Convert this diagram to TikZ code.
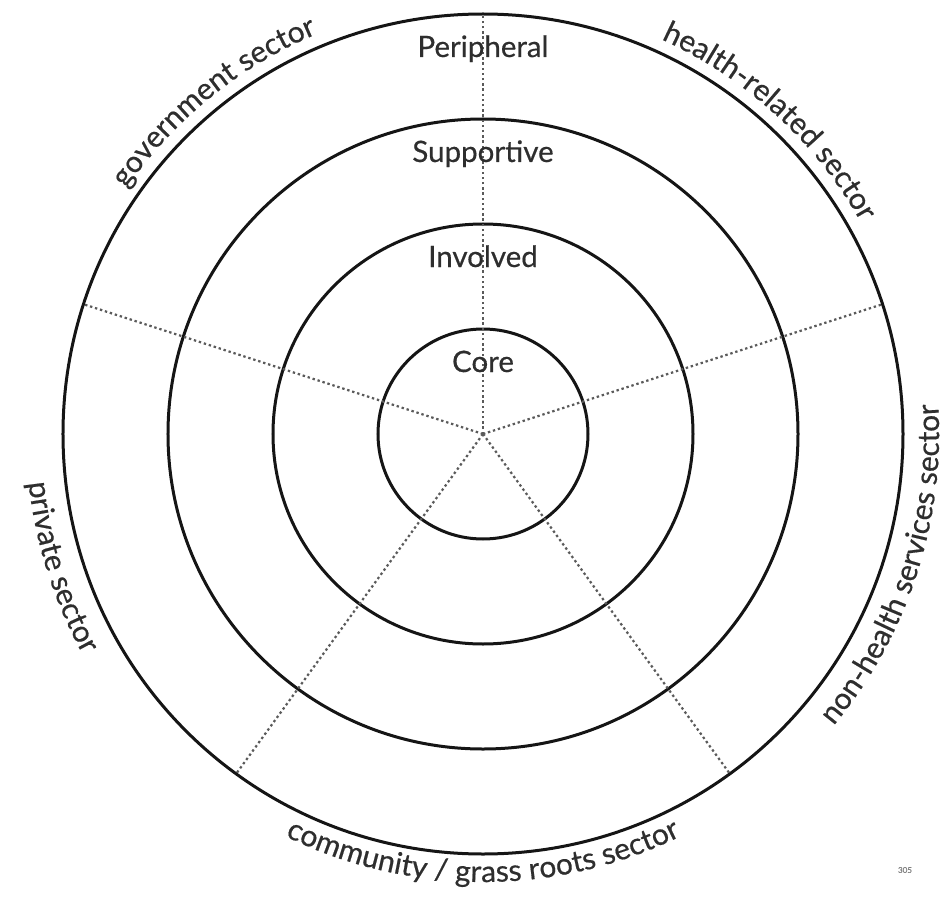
\documentclass[tikz,border=0pt]{standalone}
\usepackage{fontspec}
\setmainfont{Lato}[FakeBold=0.5]
\usetikzlibrary{decorations.text}
\definecolor{ink}{HTML}{151515}
\definecolor{txt}{HTML}{2E2E2E}
\definecolor{dotc}{HTML}{5A5A5A}
\newcommand\sectorfont{\fontsize{30}{30}\selectfont}
\begin{document}
\begin{tikzpicture}[x=1pt,y=1pt,
  ring/.style={circle, draw=ink, line width=3pt, inner sep=0pt, outer sep=0pt},
  spoke/.style={draw=dotc, line width=2.2pt, dash pattern=on 2.4pt off 2.8pt, line cap=butt},
  level/.style={font=\fontsize{29.5}{30}\selectfont, text=txt, anchor=base, inner sep=0pt},
  sector/.style={decorate, decoration={text along path, text align=center, text color=txt, text={|\sectorfont|#1}}}
]
\useasboundingbox (-483,-471) rectangle (461,434);
\coordinate (O) at (0,0);
% circles
\node[ring, minimum size=840pt] (peri) at (O) {};
\node[ring, minimum size=630pt] (supp) at (O) {};
\node[ring, minimum size=420pt] (invo) at (O) {};
\node[ring, minimum size=210pt] (core) at (O) {};
% spokes
\foreach \a in {90,162,234,306,18}{
  \draw[spoke] (O) -- (peri.\a);
}
% level labels
\node[level] (lp) at (0,377) {Peripheral};
\node[level] (ls) at (0,272) {Supportive};
\node[level] (li) at (0,167) {Involved};
\node[level] (lc) at (0,62) {Core};
% sector labels
\path[sector={government sector}] (174:433) arc[start angle=174, end angle=84, radius=433];
\path[sector={health-related sector}] (92.5:433) arc[start angle=92.5, end angle=2.5, radius=433];
\path[sector={private sector}] (152.5:457) arc[start angle=152.5, end angle=242.5, radius=457];
\path[sector={community / grass roots sector}] (225:448) arc[start angle=225, end angle=315, radius=448];
\path[sector={non-health services sector}] (-63:456) arc[start angle=-63, end angle=27, radius=456];
% page number
\node[font=\fontsize{8}{8}\selectfont, text=gray, inner sep=0pt] (pg) at (422,-436) {305};
\end{tikzpicture}
\end{document}
